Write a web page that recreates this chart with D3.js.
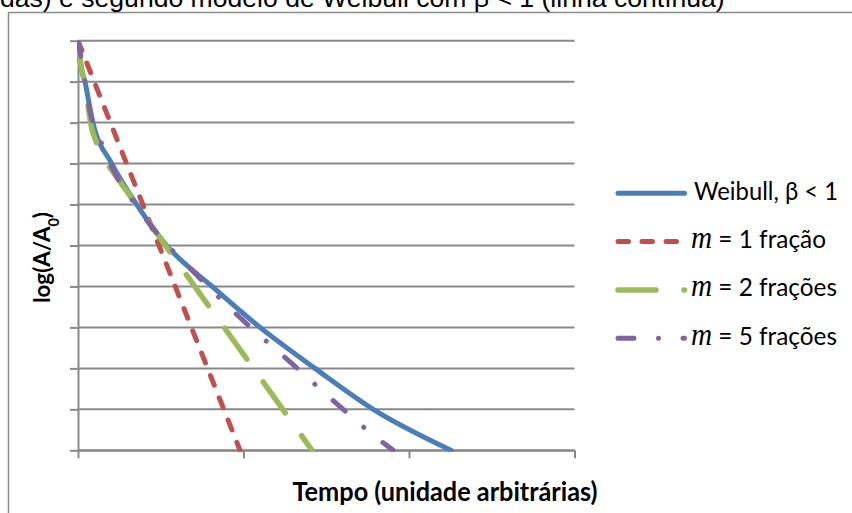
<!DOCTYPE html>
<html><head><meta charset="utf-8">
<script src="https://cdn.jsdelivr.net/npm/d3@7"></script>
<style>body{margin:0;background:#fff;overflow:hidden}</style>
</head><body>
<svg id="c" width="852" height="513"></svg>
<script>
// ---- data ----
const xTicks = [0, 1, 2, 3];
const yTicks = [0, -1, -2, -3, -4, -5, -6, -7, -8, -9, -10];

const weibullT = [0, 0.012, 0.042, 0.09, 0.204, 0.355, 0.536, 0.81, 1.10, 1.432, 1.784, 2.254];
const weibullY = [0, -0.5, -1, -2, -3, -4, -5, -6, -7, -8, -9, -10];

const m1T = [0, 0.979];
const m1Y = [0, -10];

const m2T = [0, 0.012, 0.042, 0.083, 0.113, 0.14, 0.193, 0.5, 1.0, 1.414];
const m2Y = [0, -0.43, -1.08, -2.14, -2.5, -2.8, -3.1, -4.84, -7.66, -10];

const m5T = [0, 0.012, 0.042, 0.073, 0.147, 0.234, 0.334, 0.445, 0.717, 0.878, 1.027, 1.176, 1.323, 1.476, 1.628, 1.778, 1.905];
const m5Y = [0, -0.27, -1.0, -1.73, -2.55, -3.32, -3.93, -4.54, -5.72, -6.37, -6.94, -7.47, -7.99, -8.55, -9.09, -9.61, -10];

const seriesNames = ["Weibull", "m1", "m2", "m5"];
const legendNum = [null, "1 fração", "2 frações", "5 frações"];
const titleText = "das) e segundo modelo de Weibull com β < 1 (linha contínua)";
const xTitle = "Tempo (unidade arbitrárias)";

// ---- styles ----
const colors = ["#4A7EBB", "#C0504D", "#9BBB59", "#8064A2"];
const widths = [5, 5, 5.5, 5];
const dashes = [null, "10.5,13.5", "38,28", "16,24.5,0.01,24.5"];

const svg = d3.select("#c");
const x = d3.scaleLinear().domain([0, 3]).range([78, 574.5]);
const y = d3.scaleLinear().domain([-10, 0]).range([450.3, 40.7]);
const grey = "#898989";

// outer chart border
svg.append("rect").attr("x", 8.5).attr("y", 12.5).attr("width", 900).attr("height", 600)
  .attr("fill", "none").attr("stroke", "#8c8c8c").attr("stroke-width", 1.5);

// title (cut off at the top, as in the reference)
const title = svg.append("text").attr("x", 0).attr("y", 7)
  .attr("font-family", "Liberation Sans, Arial, sans-serif").attr("font-size", 26)
  .attr("fill", "#000").text(titleText);

// grid lines
svg.append("g").selectAll("line").data(yTicks).join("line")
  .attr("x1", x(0)).attr("x2", x(3)).attr("y1", d => y(d)).attr("y2", d => y(d))
  .attr("stroke", grey).attr("stroke-width", 2);

// axes
const yAxis = svg.append("g").attr("transform", `translate(${x(0)},0)`)
  .call(d3.axisLeft(y).tickValues(yTicks).tickFormat("").tickSizeInner(8).tickSizeOuter(0));
const xAxis = svg.append("g").attr("transform", `translate(0,${y(-10)})`)
  .call(d3.axisBottom(x).tickValues(xTicks).tickFormat("").tickSizeInner(8).tickSizeOuter(0));
[yAxis, xAxis].forEach(a => {
  a.selectAll("path,line").attr("stroke", grey).attr("stroke-width", 2);
});

// clip
svg.append("clipPath").attr("id", "plot").append("rect")
  .attr("x", x(0) - 1).attr("y", y(0) - 0.5).attr("width", x(3) - x(0) + 2).attr("height", y(-10) - y(0) + 2);

const line = d3.line().x(d => x(d[0])).y(d => y(d[1])).curve(d3.curveMonotoneX);
const series = [
  d3.zip(weibullT, weibullY),
  d3.zip(m1T, m1Y),
  d3.zip(m2T, m2Y),
  d3.zip(m5T, m5Y)
];
const gl = svg.append("g").attr("clip-path", "url(#plot)");
series.forEach((s, i) => {
  gl.append("path").attr("d", line(s)).attr("fill", "none")
    .attr("stroke", colors[i]).attr("stroke-width", widths[i])
    .attr("stroke-linecap", "round").attr("stroke-linejoin", "round")
    .attr("stroke-dasharray", dashes[i]);
});

// legend
const lg = svg.append("g");
const rowY = [193.3, 241.6, 289.9, 338.2];
seriesNames.forEach((n, i) => {
  lg.append("line").attr("x1", 618).attr("x2", 684.5).attr("y1", rowY[i]).attr("y2", rowY[i])
    .attr("stroke", colors[i]).attr("stroke-width", widths[i])
    .attr("stroke-linecap", "round").attr("stroke-dasharray", dashes[i]);
});
const lt = [];
const legendW = [144, 135, 146, 146];
seriesNames.forEach((n, i) => {
  const t = lg.append("text").attr("x", i === 0 ? 694 : 691).attr("y", rowY[i] + 6.5)
    .attr("font-family", "Lato, sans-serif").attr("font-size", 20).attr("fill", "#000");
  if (i === 0) {
    t.text("Weibull, β < 1");
  } else {
    t.append("tspan").attr("font-family", "Liberation Serif, serif").attr("font-style", "italic")
      .attr("font-size", "1.2em").text("m");
    t.append("tspan").text(" = " + legendNum[i]);
  }
  lt.push(t);
});

function fit(sel, target) {
  const w = sel.node().getComputedTextLength();
  const fs = parseFloat(sel.attr("font-size"));
  sel.attr("font-size", fs * target / w);
  return fs * target / w;
}
// Calibri-like proportions: slightly larger Lato, squeezed to the measured width
const lfs = fit(lt[0], 144) * 1.08;
lt.forEach((t, i) => {
  t.attr("font-size", lfs).attr("textLength", legendW[i]).attr("lengthAdjust", "spacingAndGlyphs");
});

fit(title, 725);

// axis titles
const xt = svg.append("text").attr("x", 445).attr("y", 501).attr("text-anchor", "middle")
  .attr("font-family", "Lato, sans-serif").attr("font-weight", "bold").attr("font-size", 22)
  .attr("fill", "#000").text(xTitle);
const xfs = fit(xt, 305);
xt.attr("font-size", xfs * 1.08).attr("textLength", 305).attr("lengthAdjust", "spacingAndGlyphs");

const yt = svg.append("text").attr("transform", "translate(50,257.5) rotate(-90)")
  .attr("text-anchor", "middle")
  .attr("font-family", "Lato, sans-serif").attr("font-weight", "bold").attr("font-size", 22)
  .attr("fill", "#000");
yt.append("tspan").text("log(A/A");
yt.append("tspan").attr("font-size", "0.65em").attr("baseline-shift", "sub").text("0");
yt.append("tspan").text(")");
fit(yt, 91);
</script>
</body></html>
